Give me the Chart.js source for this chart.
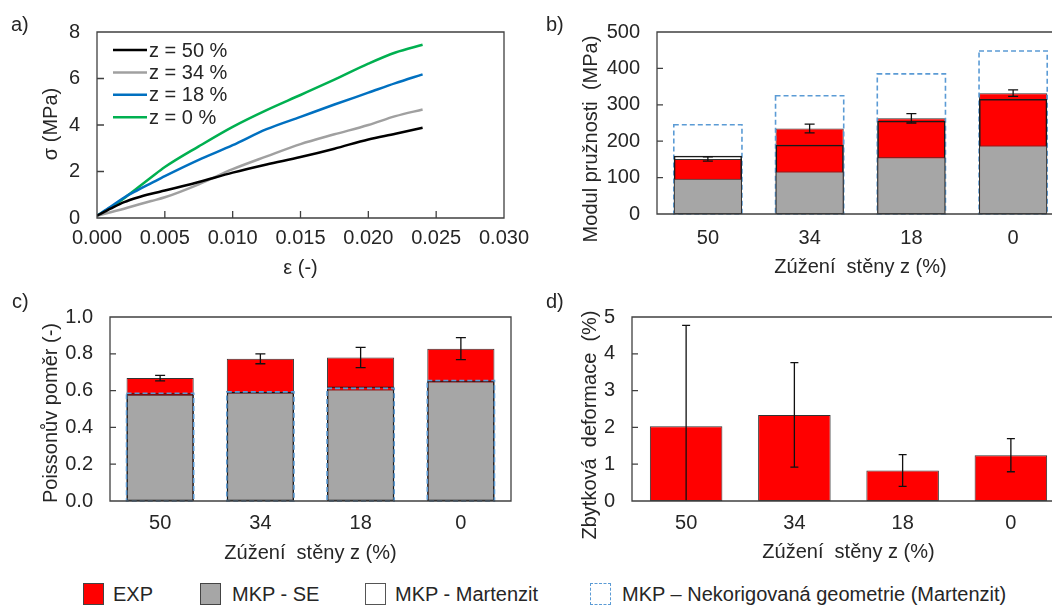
<!DOCTYPE html>
<html>
<head>
<meta charset="utf-8">
<script src="https://cdn.jsdelivr.net/npm/chart.js@4.4.1/dist/chart.umd.min.js"></script>
<style>
  html, body { margin: 0; padding: 0; width: 1052px; height: 606px; overflow: hidden; background: #fff; }
  #page { position: relative; width: 1052px; height: 606px; overflow: hidden;
          font-family: 'Liberation Sans', Arial, sans-serif; color: #262626; }
  canvas { position: absolute; }
  .lbl { position: absolute; font-size: 20px; line-height: 20px; white-space: pre; }
  .ytitle { position: absolute; font-size: 20px; line-height: 24px; white-space: pre;
            transform: translate(-50%, -50%) rotate(-90deg); }
  .box { position: absolute; box-sizing: border-box; width: 21px; height: 22px; }
</style>
</head>
<body>
<div id="page">
  <canvas id="chartA" width="560" height="285" style="left:0;top:0"></canvas>
  <canvas id="chartB" width="560" height="285" style="left:560px;top:0"></canvas>
  <canvas id="chartC" width="560" height="285" style="left:0;top:285px"></canvas>
  <canvas id="chartD" width="580" height="285" style="left:540px;top:285px"></canvas>

  <div class="lbl" style="left:11px;top:14px">a)</div>
  <div class="lbl" style="left:546px;top:14px">b)</div>
  <div class="lbl" style="left:12px;top:291px">c)</div>
  <div class="lbl" style="left:546px;top:291px">d)</div>

  <div class="ytitle" style="left:50px;top:124px">σ (MPa)</div>
  <div class="ytitle" style="left:590px;top:139px">Modul pružnosti  (MPa)</div>
  <div class="ytitle" style="left:50px;top:413px">Poissonův poměr (-)</div>
  <div class="ytitle" style="left:589px;top:425px">Zbytková  deformace  (%)</div>

  <div class="box" style="left:83px;top:583px;background:#ff0000;border:1px solid #444"></div>
  <div class="lbl" style="left:113px;top:584px">EXP</div>
  <div class="box" style="left:200px;top:583px;background:#a6a6a6;border:1px solid #444"></div>
  <div class="lbl" style="left:232px;top:584px">MKP - SE</div>
  <div class="box" style="left:365px;top:583px;background:#fff;border:1px solid #555"></div>
  <div class="lbl" style="left:395px;top:584px">MKP - Martenzit</div>
  <div class="box" style="left:590px;top:583px;background:#fff;border:1.5px dashed #5b9bd5"></div>
  <div class="lbl" style="left:622px;top:584px">MKP – Nekorigovaná geometrie (Martenzit)</div>
</div>

<script>
// ---- categories (wall narrowing z, %) ----
const zuzeni = ['50', '34', '18', '0'];

// ---- a) stress-strain curves ----
const strain    = [0, 0.001, 0.002, 0.003, 0.004, 0.005, 0.0075, 0.010, 0.0125, 0.015, 0.0175, 0.020, 0.022, 0.024];
const stressZ50 = [0.1, 0.40, 0.68, 0.88, 1.04, 1.18, 1.55, 1.95, 2.30, 2.62, 2.98, 3.38, 3.62, 3.88];
const stressZ34 = [0.1, 0.25, 0.40, 0.57, 0.73, 0.89, 1.45, 2.10, 2.65, 3.18, 3.60, 4.00, 4.38, 4.67];
const stressZ18 = [0.1, 0.48, 0.88, 1.20, 1.50, 1.80, 2.50, 3.13, 3.82, 4.35, 4.88, 5.39, 5.80, 6.18];
const stressZ0  = [0.1, 0.45, 0.85, 1.30, 1.75, 2.19, 3.08, 3.92, 4.64, 5.29, 5.95, 6.64, 7.12, 7.45];
const curveLabels = ['z = 50 %', 'z = 34 %', 'z = 18 %', 'z = 0 %'];
const strainTicks = [0, 0.005, 0.010, 0.015, 0.020, 0.025, 0.030];

// ---- b) modulus of elasticity (MPa) ----
const modulExp    = [151, 235, 263, 332];
const modulExpErr = [6, 12, 13, 9];
const modulSE     = [97, 117, 156, 188];
const modulMart   = [160, 190, 256, 316];
const modulNekor  = [245, 325, 385, 448];

// ---- c) Poisson's ratio (-) ----
const poissonExp    = [0.668, 0.773, 0.780, 0.828];
const poissonExpErr = [0.015, 0.027, 0.055, 0.060];
const poissonSE     = [0.578, 0.590, 0.606, 0.650];
const poissonMart   = [0.586, 0.593, 0.622, 0.655];
const poissonNekor  = [0.586, 0.593, 0.612, 0.655];

// ---- d) residual strain (%) ----
const zbytkova    = [2.03, 2.34, 0.83, 1.245];
const zbytkovaErr = [2.74, 1.42, 0.43, 0.45];

const FONT = "'Liberation Sans', Arial, sans-serif";
Chart.defaults.font.family = FONT;
Chart.defaults.font.size = 20;
Chart.defaults.color = '#262626';

const RED = '#ff0000', GRAY = '#a6a6a6', DASH_BLUE = '#5b9bd5', EDGE = '#333333';

// plot frame + inward tick marks
const framePlugin = {
  id: 'frame',
  afterDraw(chart, args, o) {
    const { ctx, chartArea: a, scales } = chart;
    ctx.save();
    ctx.strokeStyle = o.color || '#404040';
    ctx.lineWidth = o.width || 1.3;
    ctx.beginPath();
    ctx.rect(a.left, a.top, a.right - a.left, a.bottom - a.top);
    ctx.stroke();
    const len = o.tickLen || 6;
    ctx.beginPath();
    if (o.yTicks) {
      scales.y.ticks.forEach(t => {
        const p = scales.y.getPixelForValue(t.value);
        if (p > a.top + 1 && p < a.bottom - 1) { ctx.moveTo(a.left, p); ctx.lineTo(a.left + len, p); }
      });
    }
    if (o.xTicks) {
      scales.x.ticks.forEach(t => {
        const p = scales.x.getPixelForValue(t.value);
        if (p > a.left + 1 && p < a.right - 1) { ctx.moveTo(p, a.bottom); ctx.lineTo(p, a.bottom - len); }
      });
    }
    ctx.stroke();
    ctx.restore();
  }
};

// error bars for datasets carrying an `errors` array
const errorBarPlugin = {
  id: 'errorBars',
  afterDatasetsDraw(chart, args, o) {
    const { ctx, chartArea: a } = chart;
    chart.data.datasets.forEach((ds, i) => {
      if (!ds.errors) return;
      const meta = chart.getDatasetMeta(i);
      const ys = chart.scales[meta.yAxisID];
      const cap = o.cap || 5;
      ctx.save();
      ctx.beginPath();
      ctx.rect(a.left, a.top, a.right - a.left, a.bottom - a.top);
      ctx.clip();
      ctx.strokeStyle = o.color || '#111';
      ctx.lineWidth = o.width || 1.3;
      meta.data.forEach((el, j) => {
        const v = ds.data[j], e = ds.errors[j];
        const hi = ys.getPixelForValue(v + e), lo = ys.getPixelForValue(v - e);
        ctx.beginPath();
        ctx.moveTo(el.x, hi); ctx.lineTo(el.x, lo);
        ctx.moveTo(el.x - cap, hi); ctx.lineTo(el.x + cap, hi);
        ctx.moveTo(el.x - cap, lo); ctx.lineTo(el.x + cap, lo);
        ctx.stroke();
      });
      ctx.restore();
    });
  }
};

// dashed outline bars (uncorrected geometry)
const dashedBarPlugin = {
  id: 'dashedBars',
  afterDatasetDraw(chart, args) {
    const ds = chart.data.datasets[args.index];
    if (!ds.dashedOutline) return;
    const { ctx } = chart;
    ctx.save();
    ctx.strokeStyle = DASH_BLUE;
    ctx.lineWidth = 1.6;
    ctx.setLineDash([5, 3]);
    args.meta.data.forEach(el => {
      const w = el.width;
      ctx.strokeRect(el.x - w / 2, el.y, w, el.base - el.y);
    });
    ctx.restore();
  }
};

// in-plot legend for the stress-strain panel
const curveLegendPlugin = {
  id: 'curveLegend',
  afterDraw(chart, args, o) {
    if (!o.show) return;
    const { ctx, chartArea: a } = chart;
    ctx.save();
    ctx.font = '20px ' + FONT;
    ctx.textBaseline = 'middle';
    ctx.fillStyle = '#262626';
    chart.data.datasets.forEach((ds, i) => {
      const y = a.top + 18 + i * 22.4;
      const x0 = a.left + 16;
      ctx.strokeStyle = ds.borderColor;
      ctx.lineWidth = ds.borderWidth;
      ctx.beginPath(); ctx.moveTo(x0, y); ctx.lineTo(x0 + 34, y); ctx.stroke();
      ctx.fillText(ds.label, x0 + 36, y + 1);
    });
    ctx.restore();
  }
};

Chart.register(framePlugin, errorBarPlugin, dashedBarPlugin, curveLegendPlugin);

function yAxis(width, min, max, step, fmt) {
  return {
    min, max,
    grid: { display: false, drawTicks: false },
    border: { display: false },
    ticks: { stepSize: step, padding: 17, callback: fmt },
    afterFit(s) { s.width = width; }
  };
}
function xCat(height, pad, titlePad) {
  return {
    type: 'category',
    offset: true,
    grid: { display: false, drawTicks: false },
    border: { display: false },
    ticks: { padding: pad },
    title: { display: true, text: 'Zúžení  stěny z (%)', padding: { top: 0, bottom: titlePad } },
    afterFit(s) { s.height = height; }
  };
}
const barCommon = { grouped: false, categoryPercentage: 1, barPercentage: 0.67, borderSkipped: false };

// ---- a) ----
const curveColors = ['#000000', '#a0a0a0', '#0070c0', '#00b050'];
const curveSeries = [stressZ50, stressZ34, stressZ18, stressZ0];
new Chart(document.getElementById('chartA'), {
  type: 'line',
  data: {
    datasets: curveSeries.map((s, k) => ({
      label: curveLabels[k],
      data: strain.map((x, i) => ({ x, y: s[i] })),
      borderColor: curveColors[k],
      borderWidth: 2.5,
      pointRadius: 0,
      cubicInterpolationMode: 'monotone',
      fill: false
    }))
  },
  options: {
    responsive: false, animation: false, events: [],
    layout: { padding: { left: 0, top: 32, right: 56, bottom: 0 } },
    scales: {
      x: {
        type: 'linear', min: 0, max: 0.03,
        grid: { display: false, drawTicks: false },
        border: { display: false },
        afterBuildTicks(s) { s.ticks = strainTicks.map(v => ({ value: v })); },
        ticks: { padding: 8, callback: v => v.toFixed(3) },
        title: { display: true, text: 'ε (-)', padding: { top: 0, bottom: 5 } },
        afterFit(s) { s.height = 67; }
      },
      y: yAxis(97, 0, 8, 2)
    },
    plugins: {
      legend: { display: false }, tooltip: { enabled: false },
      frame: { xTicks: true, yTicks: true, tickLen: 7 },
      curveLegend: { show: true }
    }
  }
});

// ---- b) ----
new Chart(document.getElementById('chartB'), {
  type: 'bar',
  data: {
    labels: zuzeni,
    datasets: [
      { ...barCommon, label: 'EXP', data: modulExp, errors: modulExpErr, backgroundColor: RED, borderColor: EDGE, borderWidth: 1, order: 4 },
      { ...barCommon, label: 'MKP – Nekorigovaná geometrie (Martenzit)', data: modulNekor, dashedOutline: true, backgroundColor: 'rgba(0,0,0,0)', borderWidth: 0, order: 3 },
      { ...barCommon, label: 'MKP - Martenzit', data: modulMart, backgroundColor: 'rgba(0,0,0,0)', borderColor: '#1a1a1a', borderWidth: 1.5, order: 2 },
      { ...barCommon, label: 'MKP - SE', data: modulSE, backgroundColor: GRAY, borderColor: EDGE, borderWidth: 1, order: 1 }
    ]
  },
  options: {
    responsive: false, animation: false, events: [],
    layout: { padding: { left: 0, top: 32, right: 56, bottom: 0 } },
    scales: { x: xCat(71, 12, 6), y: yAxis(97, 0, 500, 100) },
    plugins: {
      legend: { display: false }, tooltip: { enabled: false },
      frame: { yTicks: true, tickLen: 6 },
      errorBars: { cap: 5 }
    }
  }
});

// ---- c) ----
new Chart(document.getElementById('chartC'), {
  type: 'bar',
  data: {
    labels: zuzeni,
    datasets: [
      { ...barCommon, label: 'EXP', data: poissonExp, errors: poissonExpErr, backgroundColor: RED, borderColor: EDGE, borderWidth: 1, order: 4 },
      { ...barCommon, label: 'MKP - SE', data: poissonSE, backgroundColor: GRAY, borderColor: EDGE, borderWidth: 1, order: 3 },
      { ...barCommon, label: 'MKP - Martenzit', data: poissonMart, backgroundColor: 'rgba(0,0,0,0)', borderColor: '#1a1a1a', borderWidth: 1.3, order: 2 },
      { ...barCommon, label: 'MKP – Nekorigovaná geometrie (Martenzit)', data: poissonNekor, dashedOutline: true, backgroundColor: 'rgba(0,0,0,0)', borderWidth: 0, order: 1 }
    ]
  },
  options: {
    responsive: false, animation: false, events: [],
    layout: { padding: { left: 0, top: 32, right: 49, bottom: 0 } },
    scales: { x: xCat(69, 10, 5), y: yAxis(110, 0, 1, 0.2, v => v.toFixed(1)) },
    plugins: {
      legend: { display: false }, tooltip: { enabled: false },
      frame: { yTicks: true, tickLen: 6 },
      errorBars: { cap: 5 }
    }
  }
});

// ---- d) ----
new Chart(document.getElementById('chartD'), {
  type: 'bar',
  data: {
    labels: zuzeni,
    datasets: [
      { ...barCommon, label: 'EXP', data: zbytkova, errors: zbytkovaErr, backgroundColor: RED, borderColor: EDGE, borderWidth: 1 }
    ]
  },
  options: {
    responsive: false, animation: false, events: [],
    layout: { padding: { left: 0, top: 32, right: 55, bottom: 0 } },
    scales: { x: xCat(69, 10, 6), y: yAxis(92, 0, 5, 1) },
    plugins: {
      legend: { display: false }, tooltip: { enabled: false },
      frame: { yTicks: true, tickLen: 6 },
      errorBars: { cap: 4 }
    }
  }
});
</script>
</body>
</html>
